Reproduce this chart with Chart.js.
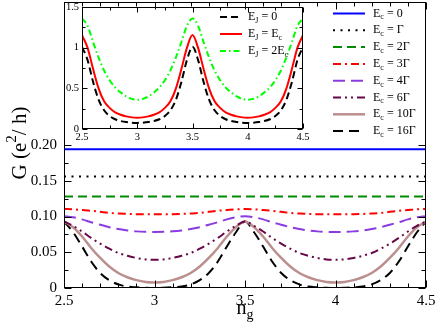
<!DOCTYPE html>
<html>
<head>
<meta charset="utf-8">
<script src="https://cdn.jsdelivr.net/npm/chart.js@4.4.0/dist/chart.umd.min.js"></script>
<style>
  html, body { margin: 0; padding: 0; background: #fff; overflow: hidden; }
  #wrap { position: relative; width: 436px; height: 327px; }
  #main { position: absolute; left: 0; top: 0; }
  #inset { position: absolute; left: 60px; top: 0; }
</style>
</head>
<body>
<div id="wrap">
  <canvas id="main" width="436" height="327"></canvas>
  <canvas id="inset" width="250" height="142"></canvas>
</div>
<script>
// gate charge axis
let ng = [2.5, 2.55, 2.6, 2.65, 2.7, 2.75, 2.8, 2.85, 2.9, 2.95, 3,
    3.05, 3.1, 3.15, 3.2, 3.25, 3.3, 3.35, 3.4, 3.45, 3.5,
    3.55, 3.6, 3.65, 3.7, 3.75, 3.8, 3.85, 3.9, 3.95, 4,
    4.05, 4.1, 4.15, 4.2, 4.25, 4.3, 4.35, 4.4, 4.45, 4.5];
let flatNg = [2.5, 4.5];

// main panel: G in e^2/h for each Ec
let gEc0 = [0.194, 0.194];
let gEc1 = [0.156, 0.156];
let gEc2 = [0.128, 0.128];
let gEc3 = [0.1105, 0.110, 0.109, 0.108, 0.1065, 0.105, 0.1042, 0.1036, 0.1032, 0.103, 0.103,
    0.103, 0.1032, 0.1036, 0.1042, 0.105, 0.1065, 0.108, 0.109, 0.110, 0.1105,
    0.110, 0.109, 0.108, 0.1065, 0.105, 0.1042, 0.1036, 0.1032, 0.103, 0.103,
    0.103, 0.1032, 0.1036, 0.1042, 0.105, 0.1065, 0.108, 0.109, 0.110, 0.1105];
let gEc4 = [0.1005, 0.099, 0.096, 0.092, 0.0885, 0.085, 0.0825, 0.0805, 0.0792, 0.0785, 0.0783,
    0.0785, 0.0792, 0.0805, 0.0825, 0.085, 0.0885, 0.092, 0.096, 0.099, 0.1005,
    0.099, 0.096, 0.092, 0.0885, 0.085, 0.0825, 0.0805, 0.0792, 0.0785, 0.0783,
    0.0785, 0.0792, 0.0805, 0.0825, 0.085, 0.0885, 0.092, 0.096, 0.099, 0.1005];
let gEc6 = [0.093, 0.087, 0.079, 0.070, 0.062, 0.055, 0.049, 0.045, 0.042, 0.040, 0.0395,
    0.040, 0.042, 0.045, 0.049, 0.055, 0.062, 0.070, 0.079, 0.087, 0.093,
    0.087, 0.079, 0.070, 0.062, 0.055, 0.049, 0.045, 0.042, 0.040, 0.0395,
    0.040, 0.042, 0.045, 0.049, 0.055, 0.062, 0.070, 0.079, 0.087, 0.093];
let gEc10 = [0.093, 0.085, 0.072, 0.056, 0.042, 0.030, 0.021, 0.015, 0.011, 0.0085, 0.0078,
    0.0085, 0.011, 0.015, 0.021, 0.030, 0.042, 0.056, 0.072, 0.085, 0.093,
    0.085, 0.072, 0.056, 0.042, 0.030, 0.021, 0.015, 0.011, 0.0085, 0.0078,
    0.0085, 0.011, 0.015, 0.021, 0.030, 0.042, 0.056, 0.072, 0.085, 0.093];
let gEc16 = [0.093, 0.078, 0.058, 0.037, 0.021, 0.011, 0.005, 0.002, 0.001, 0.0003, 0,
    0.0003, 0.001, 0.002, 0.005, 0.011, 0.021, 0.037, 0.058, 0.078, 0.093,
    0.078, 0.058, 0.037, 0.021, 0.011, 0.005, 0.002, 0.001, 0.0003, 0,
    0.0003, 0.001, 0.002, 0.005, 0.011, 0.021, 0.037, 0.058, 0.078, 0.093];
let mainLegendRhs = ['0', 'Γ', '2Γ', '3Γ', '4Γ', '6Γ', '10Γ', '16Γ'];

// inset: G for each EJ
let gEj0 = [1.01, 0.85, 0.58, 0.36, 0.23, 0.16, 0.12, 0.098, 0.085, 0.078, 0.075,
    0.078, 0.085, 0.098, 0.12, 0.16, 0.23, 0.36, 0.58, 0.85, 1.01,
    0.85, 0.58, 0.36, 0.23, 0.16, 0.12, 0.098, 0.085, 0.078, 0.075,
    0.078, 0.085, 0.098, 0.12, 0.16, 0.23, 0.36, 0.58, 0.85, 1.01];
let gEj1 = [1.155, 1.0, 0.74, 0.50, 0.34, 0.26, 0.205, 0.175, 0.155, 0.143, 0.139,
    0.143, 0.155, 0.175, 0.205, 0.26, 0.34, 0.50, 0.74, 1.0, 1.155,
    1.0, 0.74, 0.50, 0.34, 0.26, 0.205, 0.175, 0.155, 0.143, 0.139,
    0.143, 0.155, 0.175, 0.205, 0.26, 0.34, 0.50, 0.74, 1.0, 1.155];
let gEj2 = [1.36, 1.27, 1.07, 0.88, 0.72, 0.60, 0.51, 0.45, 0.40, 0.37, 0.36,
    0.37, 0.40, 0.45, 0.51, 0.60, 0.72, 0.88, 1.07, 1.27, 1.36,
    1.27, 1.07, 0.88, 0.72, 0.60, 0.51, 0.45, 0.40, 0.37, 0.36,
    0.37, 0.40, 0.45, 0.51, 0.60, 0.72, 0.88, 1.07, 1.27, 1.36];
let insetLegend = [
    [['E', 'n'], ['J', 'sub'], [' = 0', 'n']],
    [['E', 'n'], ['J', 'sub'], [' = E', 'n'], ['c', 'sub']],
    [['E', 'n'], ['J', 'sub'], [' = 2E', 'n'], ['c', 'sub']]
];

// ticks
let mainXMajor = [2.5, 3, 3.5, 4, 4.5];
let mainXMinor = [2.6, 2.7, 2.8, 2.9, 3.1, 3.2, 3.3, 3.4, 3.6, 3.7, 3.8, 3.9, 4.1, 4.2, 4.3, 4.4];
let mainYMajor = [0, 0.05, 0.1, 0.15, 0.2];
let mainYMinor = [0.025, 0.075, 0.125, 0.175];
let insetXMajor = [2.5, 3, 3.5, 4, 4.5];
let insetXMinor = [2.75, 3.25, 3.75, 4.25];
let insetYMajor = [0, 0.5, 1, 1.5];
let insetYMinor = [0.25, 0.75, 1.25];

const SERIF = '"Liberation Serif", "DejaVu Serif", serif';
Chart.defaults.font.family = SERIF;
Chart.defaults.color = '#000';

function series(xs, ys, label, color, dash, width) {
    return {
        label: label,
        data: xs.map((x, i) => ({ x: x, y: ys[i] })),
        showLine: true,
        borderColor: color,
        borderWidth: width || 2,
        borderDash: dash,
        pointRadius: 0,
        cubicInterpolationMode: 'monotone',
        fill: false
    };
}

// fixed axis box, no extra label overflow padding
function fixBox(size, horizontal) {
    return s => {
        if (horizontal) s.height = size; else s.width = size;
        s.paddingTop = 0; s.paddingBottom = 0; s.paddingLeft = 0; s.paddingRight = 0;
    };
}

function drawRich(ctx, parts, x, y, size) {
    ctx.textBaseline = 'middle';
    ctx.textAlign = 'left';
    for (let [t, kind] of parts) {
        let s = kind === 'n' ? size : Math.round(size * 0.7);
        let dy = kind === 'sub' ? size * 0.32 : (kind === 'sup' ? -size * 0.38 : 0);
        ctx.font = s + 'px ' + SERIF;
        ctx.fillText(t, x, y + dy);
        x += ctx.measureText(t).width;
    }
    return x;
}

function richWidth(ctx, parts, size) {
    let w = 0;
    for (let [t, kind] of parts) {
        ctx.font = (kind === 'n' ? size : Math.round(size * 0.7)) + 'px ' + SERIF;
        w += ctx.measureText(t).width;
    }
    return w;
}

function frameAndTicks(xMaj, xMin, yMaj, yMin, majLen, minLen) {
    return {
        id: 'frameTicks',
        afterDatasetsDraw(chart) {
            let ctx = chart.ctx, a = chart.chartArea, sx = chart.scales.x, sy = chart.scales.y;
            ctx.save();
            ctx.strokeStyle = '#000';
            ctx.lineWidth = 1;
            ctx.setLineDash([]);
            let l = Math.round(a.left) + 0.5, r = Math.round(a.right) - 0.5;
            let t = Math.round(a.top) + 0.5, b = Math.round(a.bottom) - 0.5;
            ctx.strokeRect(l, t, r - l, b - t);
            ctx.beginPath();
            let xt = (vals, len) => vals.forEach(v => {
                let px = Math.round(sx.getPixelForValue(v)) + 0.5;
                ctx.moveTo(px, b); ctx.lineTo(px, b - len);
                ctx.moveTo(px, t); ctx.lineTo(px, t + len);
            });
            let yt = (vals, len) => vals.forEach(v => {
                let py = Math.round(sy.getPixelForValue(v)) + 0.5;
                ctx.moveTo(l, py); ctx.lineTo(l + len, py);
                ctx.moveTo(r, py); ctx.lineTo(r - len, py);
            });
            xt(xMaj, majLen); xt(xMin, minLen);
            yt(yMaj, majLen); yt(yMin, minLen);
            ctx.stroke();
            ctx.restore();
        }
    };
}

let mainExtras = {
    id: 'mainExtras',
    afterDraw(chart) {
        let ctx = chart.ctx;
        ctx.save();
        ctx.fillStyle = '#000';
        // legend
        chart.data.datasets.forEach((ds, i) => {
            let y = 13.5 + i * 16.8;
            ctx.strokeStyle = ds.borderColor;
            ctx.lineWidth = ds.borderWidth;
            ctx.setLineDash(ds.borderDash || []);
            ctx.beginPath();
            ctx.moveTo(333, y); ctx.lineTo(365, y);
            ctx.stroke();
            ctx.setLineDash([]);
            drawRich(ctx, [['E', 'n'], ['c', 'sub'], [' = ' + mainLegendRhs[i], 'n']], 373, y, 12);
        });
        // y title
        let yTitle = [['G (e', 'n'], ['2', 'sup'], ['/ h)', 'n']];
        ctx.save();
        ctx.translate(20, 143);
        ctx.rotate(-Math.PI / 2);
        drawRich(ctx, yTitle, -richWidth(ctx, yTitle, 21) / 2, 0, 21);
        ctx.restore();
        // x title
        let xTitle = [['n', 'n'], ['g', 'sub']];
        drawRich(ctx, xTitle, 245 - richWidth(ctx, xTitle, 20) / 2, 309, 20);
        ctx.restore();
    }
};

let insetExtras = {
    id: 'insetExtras',
    afterDraw(chart) {
        let ctx = chart.ctx;
        ctx.save();
        ctx.fillStyle = '#000';
        chart.data.datasets.forEach((ds, i) => {
            let y = 17 + i * 17;
            ctx.strokeStyle = ds.borderColor;
            ctx.lineWidth = ds.borderWidth;
            ctx.setLineDash(ds.borderDash || []);
            ctx.beginPath();
            ctx.moveTo(160, y); ctx.lineTo(182, y);
            ctx.stroke();
            ctx.setLineDash([]);
            drawRich(ctx, insetLegend[i], 188, y, 12);
        });
        ctx.restore();
    }
};

new Chart(document.getElementById('main'), {
    type: 'scatter',
    data: {
        datasets: [
            series(flatNg, gEc0, 'Ec = 0', 'rgb(0,0,255)', []),
            series(flatNg, gEc1, 'Ec = Γ', '#000', [2, 5.5]),
            series(flatNg, gEc2, 'Ec = 2Γ', 'rgb(0,139,0)', [9, 5]),
            series(ng, gEc3, 'Ec = 3Γ', 'rgb(255,0,0)', [8, 4, 2, 4]),
            series(ng, gEc4, 'Ec = 4Γ', 'rgb(138,60,225)', [12, 6]),
            series(ng, gEc6, 'Ec = 6Γ', 'rgb(103,7,72)', [8, 4, 2, 4, 2, 4]),
            series(ng, gEc10, 'Ec = 10Γ', 'rgb(188,143,143)', [], 2.5),
            series(ng, gEc16, 'Ec = 16Γ', '#000', [10, 6])
        ]
    },
    options: {
        responsive: false,
        animation: false,
        devicePixelRatio: 1,
        layout: { padding: { top: 2, right: 10, left: 0, bottom: 0 } },
        plugins: { legend: { display: false }, tooltip: { enabled: false } },
        scales: {
            x: {
                type: 'linear', min: 2.5, max: 4.5,
                grid: { display: false, drawTicks: false },
                border: { display: false },
                afterBuildTicks: s => { s.ticks = mainXMajor.map(v => ({ value: v })); },
                afterFit: fixBox(39, true),
                ticks: { padding: 4, font: { size: 15 }, color: '#000', maxRotation: 0, callback: v => String(v) }
            },
            y: {
                type: 'linear', min: 0, max: 0.4,
                grid: { display: false, drawTicks: false },
                border: { display: false },
                afterBuildTicks: s => { s.ticks = mainYMajor.map(v => ({ value: v })); },
                afterFit: fixBox(64, false),
                ticks: { padding: 7, font: { size: 15 }, color: '#000', callback: v => v === 0 ? '0' : v.toFixed(2) }
            }
        }
    },
    plugins: [frameAndTicks(mainXMajor, mainXMinor, mainYMajor, mainYMinor, 7, 4), mainExtras]
});

new Chart(document.getElementById('inset'), {
    type: 'scatter',
    data: {
        datasets: [
            series(ng, gEj0, 'EJ = 0', '#000', [7, 4]),
            series(ng, gEj1, 'EJ = Ec', 'rgb(255,0,0)', []),
            series(ng, gEj2, 'EJ = 2Ec', 'rgb(0,255,0)', [6, 3, 1.5, 3])
        ]
    },
    options: {
        responsive: false,
        animation: false,
        devicePixelRatio: 1,
        layout: { padding: { top: 7, right: 7, left: 0, bottom: 0 } },
        plugins: { legend: { display: false }, tooltip: { enabled: false } },
        scales: {
            x: {
                type: 'linear', min: 2.5, max: 4.5,
                grid: { display: false, drawTicks: false },
                border: { display: false },
                afterBuildTicks: s => { s.ticks = insetXMajor.map(v => ({ value: v })); },
                afterFit: fixBox(13, true),
                ticks: { padding: 2, font: { size: 10.5 }, color: '#000', maxRotation: 0, callback: v => String(v) }
            },
            y: {
                type: 'linear', min: 0, max: 1.5,
                grid: { display: false, drawTicks: false },
                border: { display: false },
                afterBuildTicks: s => { s.ticks = insetYMajor.map(v => ({ value: v })); },
                afterFit: fixBox(22, false),
                ticks: { padding: 3, font: { size: 10.5 }, color: '#000', callback: v => String(v) }
            }
        }
    },
    plugins: [frameAndTicks(insetXMajor, insetXMinor, insetYMajor, insetYMinor, 5, 3), insetExtras]
});
</script>
</body>
</html>
